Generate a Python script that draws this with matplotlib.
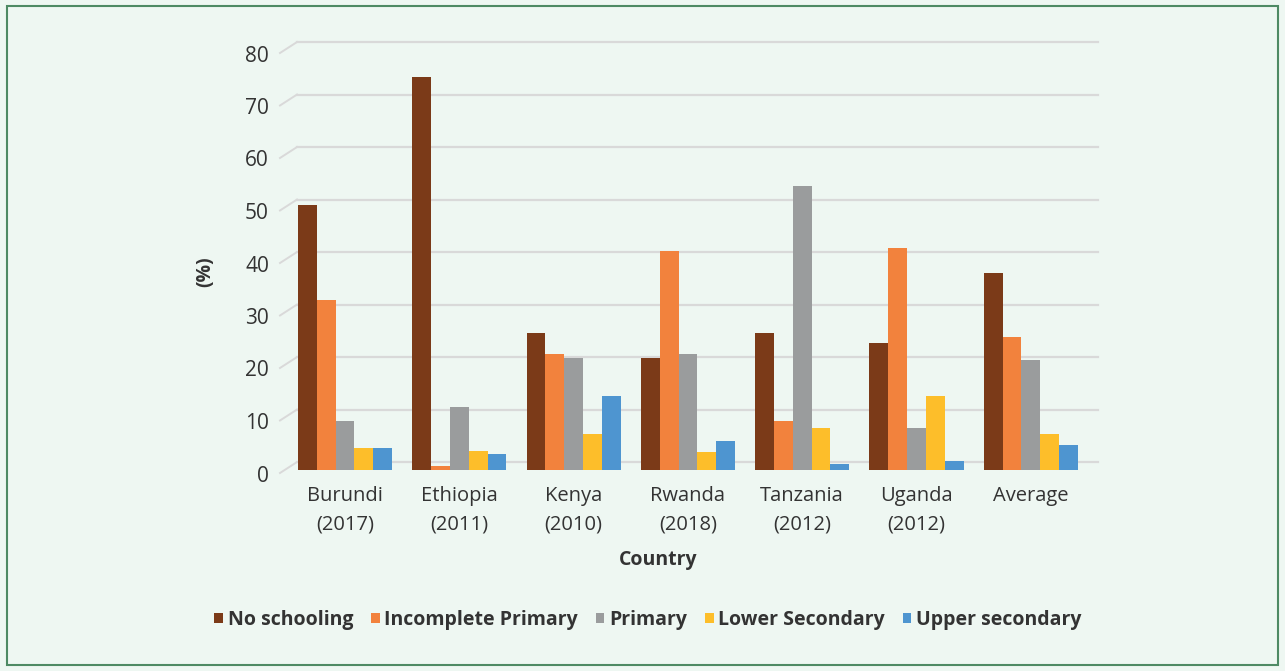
import matplotlib
matplotlib.use("Agg")
import matplotlib.pyplot as plt
import matplotlib.transforms as mtransforms
import numpy as np

plt.rcParams['font.family'] = ['Open Sans', 'DejaVu Sans']

# data
countries = ["Burundi\n(2017)", "Ethiopia\n(2011)", "Kenya\n(2010)", "Rwanda\n(2018)",
             "Tanzania\n(2012)", "Uganda\n(2012)", "Average"]
series = ["No schooling", "Incomplete Primary", "Primary", "Lower Secondary", "Upper secondary"]
no_schooling = [50.4, 74.8, 26.1, 21.3, 26.1, 24.2, 37.5]
incomplete_primary = [32.4, 0.8, 22.1, 41.7, 9.3, 42.3, 25.3]
primary = [9.3, 12.0, 21.3, 22.1, 54.1, 8.0, 20.9]
lower_secondary = [4.2, 3.6, 6.9, 3.4, 8.0, 14.1, 6.9]
upper_secondary = [4.2, 3.0, 14.1, 5.5, 1.1, 1.7, 4.8]
yticks = [0, 10, 20, 30, 40, 50, 60, 70, 80]

colors = ["#7B3A18", "#F2823D", "#9A9C9D", "#FDBE2A", "#4E95D0"]
bg = "#EEF7F2"

W, H = 1285, 671
fig = plt.figure(figsize=(W / 100, H / 100), dpi=100, facecolor=bg)
# frame round the picture
fig.patches.append(plt.Rectangle((7 / W, 6 / H), 1 - 14 / W, 1 - 12 / H, transform=fig.transFigure,
                                 fill=False, edgecolor="#4E8A64", linewidth=1.5))

ax = fig.add_axes([280 / W, (H - 475.25) / H, 818 / W, 83 * 5.25 / H])
ax.set_facecolor(bg)
ax.set_xlim(-0.569, 6.588)
ax.set_ylim(-1, 82)

x = np.arange(len(countries))
bw = 0.1645
allvals = [no_schooling, incomplete_primary, primary, lower_secondary, upper_secondary]
for j, (vals, name) in enumerate(zip(allvals, series)):
    ax.bar(x + (j - 2) * bw, vals, bw, color=colors[j], label=name, zorder=3)

# back-wall gridlines with the little slanted floor edge
xb = -0.42
for v in yticks:
    ax.plot([xb, 6.588], [v + 1.52, v + 1.52], color="#D9D9D9", lw=1.6, zorder=1, clip_on=False)
    ax.plot([-0.569, xb], [v - 0.57, v + 1.52], color="#D9D9D9", lw=1.4, zorder=1, clip_on=False)

for s in ax.spines.values():
    s.set_visible(False)
ax.set_yticks(yticks)
ax.set_yticklabels([str(v) for v in yticks], fontsize=15, color="#333333")
ax.tick_params(axis="y", length=0, pad=8)
offset = mtransforms.ScaledTranslation(0, -3.5 / 100, fig.dpi_scale_trans)
for lab in ax.get_yticklabels():
    lab.set_transform(lab.get_transform() + offset)

ax.set_xticks(x)
ax.set_xticklabels(countries, fontsize=14.5, color="#333333", linespacing=1.55)
ax.tick_params(axis="x", length=0, pad=8)

fig.text(205 / W, 1 - 272 / H, "(%)", rotation=90, ha="center", va="center",
         fontsize=14, fontweight="bold", color="#333333")
fig.text(658 / W, 1 - 560 / H, "Country", ha="center", va="center",
         fontsize=14, fontweight="bold", color="#333333")

leg = fig.legend(loc="center", bbox_to_anchor=(648 / W, 1 - 620 / H), ncol=5, frameon=False,
                 handlelength=0.45, handleheight=0.45, handletextpad=0.25, columnspacing=0.9,
                 prop={"size": 14, "weight": "bold"})
for t in leg.get_texts():
    t.set_color("#333333")

fig.savefig("out.png", dpi=100, facecolor=bg)
